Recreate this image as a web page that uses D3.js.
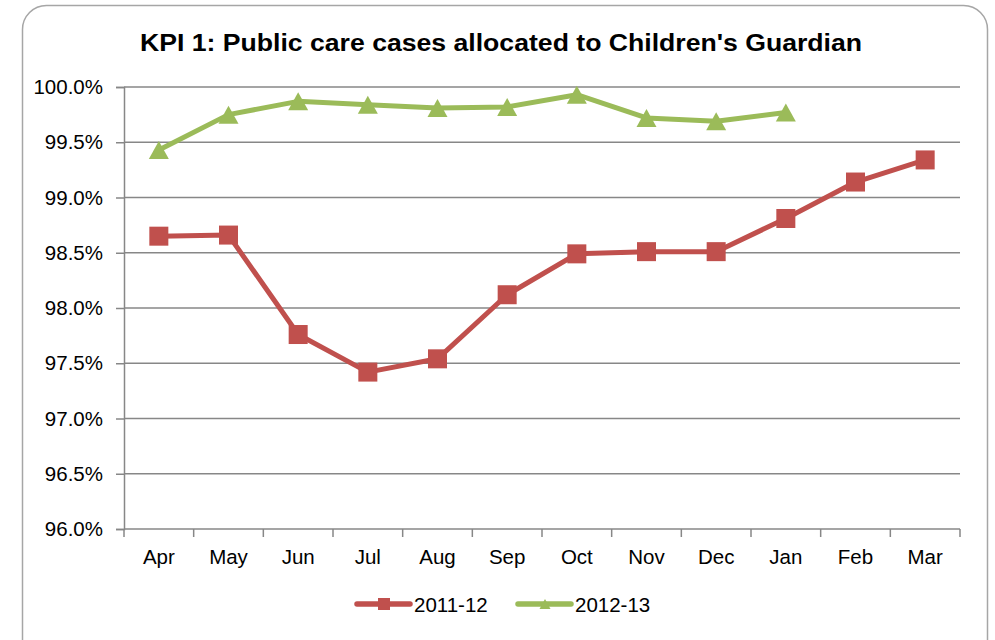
<!DOCTYPE html>
<html>
<head>
<meta charset="utf-8">
<script src="https://cdn.jsdelivr.net/npm/d3@7"></script>
<style>
  html, body { margin: 0; padding: 0; background: #fff; }
  svg { display: block; font-family: "Liberation Sans", Arial, sans-serif; }
</style>
</head>
<body>
<svg id="chart" width="995" height="640"></svg>
<script>
// Monthly values (April to March), in percent
const months = ["Apr", "May", "Jun", "Jul", "Aug", "Sep", "Oct", "Nov", "Dec", "Jan", "Feb", "Mar"];
const series2011 = [98.65, 98.66, 97.76, 97.42, 97.54, 98.12, 98.49, 98.51, 98.51, 98.81, 99.14, 99.34];
const series2012 = [99.43, 99.75, 99.87, 99.84, 99.81, 99.82, 99.93, 99.72, 99.69, 99.77];
const seriesNames = ["2011-12", "2012-13"];
const yTicks = [96.0, 96.5, 97.0, 97.5, 98.0, 98.5, 99.0, 99.5, 100.0];

const svg = d3.select("#chart");
const W = 995, H = 640;
const margin = { left: 124, right: 35, top: 87, bottom: 111 };
const innerW = W - margin.left - margin.right;
const innerH = H - margin.top - margin.bottom;

const red = "#C0504D", green = "#9BBB59", grid = "#878787";
const labelSize = 20.5;

// Outer rounded frame
svg.append("rect")
  .attr("x", 22.5).attr("y", 5.5)
  .attr("width", 965).attr("height", 660)
  .attr("rx", 24).attr("ry", 24)
  .attr("fill", "#fff").attr("stroke", "#A6A6A6").attr("stroke-width", 1.5);

// Title
svg.append("text")
  .attr("x", 501).attr("y", 51)
  .attr("text-anchor", "middle")
  .attr("font-size", 23).attr("font-weight", "bold")
  .attr("fill", "#000")
  .attr("textLength", 722).attr("lengthAdjust", "spacingAndGlyphs")
  .text("KPI 1: Public care cases  allocated to Children's Guardian");

const g = svg.append("g").attr("transform", `translate(${margin.left},${margin.top})`);

const x = d3.scaleBand().domain(months).range([0, innerW]);
const y = d3.scaleLinear().domain([96, 100]).range([innerH, 0]);
const cx = m => x(m) + x.bandwidth() / 2;

// Horizontal gridlines
g.append("g").selectAll("line")
  .data(yTicks.filter(t => t > 96))
  .join("line")
  .attr("x1", 0).attr("x2", innerW)
  .attr("y1", d => y(d)).attr("y2", d => y(d))
  .attr("stroke", grid).attr("stroke-width", 1.5);

// Y axis
const yAxis = g.append("g")
  .call(d3.axisLeft(y).tickValues(yTicks).tickFormat(d => d.toFixed(1) + "%").tickSize(8).tickPadding(13));
yAxis.select(".domain").attr("stroke", grid).attr("stroke-width", 1.5);
yAxis.selectAll(".tick line").attr("stroke", grid).attr("stroke-width", 1.5);
yAxis.selectAll(".tick text").attr("font-size", labelSize).attr("fill", "#000")
  .attr("font-family", "Liberation Sans, Arial, sans-serif");

// X axis with tick marks between categories
const xAxisG = g.append("g").attr("transform", `translate(0,${innerH})`);
xAxisG.append("line").attr("x1", 0).attr("x2", innerW).attr("y1", 0).attr("y2", 0)
  .attr("stroke", grid).attr("stroke-width", 1.5);
xAxisG.selectAll("line.tk")
  .data(d3.range(months.length + 1))
  .join("line").attr("class", "tk")
  .attr("x1", i => i * x.step()).attr("x2", i => i * x.step())
  .attr("y1", 0).attr("y2", 8)
  .attr("stroke", grid).attr("stroke-width", 1.5);
xAxisG.selectAll("text")
  .data(months)
  .join("text")
  .attr("x", d => cx(d)).attr("y", 35)
  .attr("text-anchor", "middle")
  .attr("font-size", labelSize).attr("fill", "#000")
  .text(d => d);

const line = d3.line().x((d, i) => cx(months[i])).y(d => y(d));

// Triangle marker centred on its bounding box
const triPath = (w, h) => `M0,${-h / 2}L${w / 2},${h / 2}L${-w / 2},${h / 2}Z`;

// 2011-12 series: red line with square markers
g.append("path").datum(series2011)
  .attr("d", line).attr("fill", "none")
  .attr("stroke", red).attr("stroke-width", 5).attr("stroke-linejoin", "round");
const sq = 19;
g.selectAll("rect.m11").data(series2011).join("rect").attr("class", "m11")
  .attr("x", (d, i) => cx(months[i]) - sq / 2)
  .attr("y", d => y(d) - sq / 2)
  .attr("width", sq).attr("height", sq)
  .attr("fill", red);

// 2012-13 series: green line with triangle markers
g.append("path").datum(series2012)
  .attr("d", line).attr("fill", "none")
  .attr("stroke", green).attr("stroke-width", 5).attr("stroke-linejoin", "round");
g.selectAll("path.m12").data(series2012).join("path").attr("class", "m12")
  .attr("d", triPath(20, 18))
  .attr("transform", (d, i) => `translate(${cx(months[i])},${y(d)})`)
  .attr("fill", green);

// Legend
const legend = svg.append("g").attr("transform", "translate(0,604)");
const legendItems = [
  { name: seriesNames[0], color: red, x0: 357, shape: "square" },
  { name: seriesNames[1], color: green, x0: 518, shape: "triangle" }
];
legendItems.forEach(it => {
  legend.append("line").attr("x1", it.x0).attr("x2", it.x0 + 53)
    .attr("y1", 0).attr("y2", 0).attr("stroke", it.color).attr("stroke-width", 5.5)
    .attr("stroke-linecap", "round");
  if (it.shape === "square") {
    legend.append("rect").attr("x", it.x0 + 27 - 6).attr("y", -6).attr("width", 12).attr("height", 12).attr("fill", it.color);
  } else {
    legend.append("path").attr("d", triPath(11, 10))
      .attr("transform", `translate(${it.x0 + 27},0)`).attr("fill", it.color);
  }
  legend.append("text").attr("x", it.x0 + 57).attr("y", 7.5)
    .attr("font-size", labelSize).attr("fill", "#000").text(it.name);
});
</script>
</body>
</html>
